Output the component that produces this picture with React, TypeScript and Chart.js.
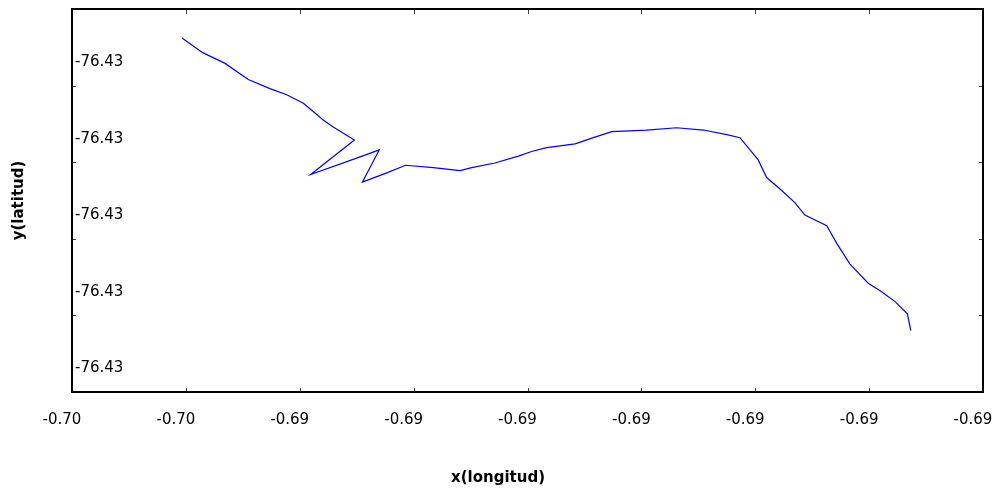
import React, { useEffect, useRef } from "react";
import { Chart, registerables } from "chart.js";

Chart.register(...registerables);

const longitudes: number[] = [
  -0.695117, -0.695026, -0.694928, -0.694826, -0.694731, -0.694657, -0.694584, -0.694497, -0.694453, -0.69436,
  -0.694552, -0.694335, -0.694251, -0.694325, -0.694218, -0.694135, -0.694014, -0.693896, -0.693845, -0.693743,
  -0.69364, -0.693582, -0.693516, -0.693391, -0.693311, -0.69323, -0.693077, -0.692945, -0.692828, -0.692725,
  -0.692667, -0.692587, -0.69255, -0.692491, -0.692425, -0.692382, -0.692286, -0.692242, -0.692184, -0.692104,
  -0.692045, -0.691986, -0.691932, -0.691917,
];

const latitudes: number[] = [
  -76.429788, -76.429807, -76.429821, -76.429842, -76.429854, -76.429862, -76.429873, -76.429895, -76.429904, -76.429921,
  -76.429966, -76.429943, -76.429934, -76.429976, -76.429964, -76.429954, -76.429957, -76.429961, -76.429957, -76.429951,
  -76.429942, -76.429936, -76.429931, -76.429926, -76.429918, -76.42991, -76.429908, -76.429905, -76.429908, -76.429914,
  -76.429918, -76.429947, -76.42997, -76.429985, -76.430003, -76.430019, -76.430033, -76.430056, -76.430083, -76.430108,
  -76.430119, -76.430132, -76.430148, -76.43017,
];

const xTicks: number[] = [-0.6956, -0.6951, -0.6946, -0.6941, -0.6936, -0.6931, -0.6926, -0.6921, -0.6916];
const yTicks: number[] = [-76.43025, -76.43015, -76.43005, -76.42995, -76.42985, -76.42975];

const xTitle = "x(longitud)";
const yTitle = "y(latitud)";

const FONT = "'DejaVu Sans', sans-serif";

const framePlugin = {
  id: "frame",
  afterDraw(chart: any) {
    const { ctx, chartArea } = chart;
    const { left, right, top, bottom } = chartArea;
    const xs = chart.scales.x;
    const ys = chart.scales.y;
    ctx.save();
    ctx.strokeStyle = "#444";
    ctx.lineWidth = 1;
    ctx.beginPath();
    xTicks.slice(1, -1).forEach((v) => {
      const px = Math.round(xs.getPixelForValue(v)) + 0.5;
      ctx.moveTo(px, bottom);
      ctx.lineTo(px, bottom - 4);
      ctx.moveTo(px, top);
      ctx.lineTo(px, top + 5);
    });
    yTicks.slice(1, -1).forEach((v) => {
      const py = Math.round(ys.getPixelForValue(v)) + 0.5;
      ctx.moveTo(left, py);
      ctx.lineTo(left + 4, py);
      ctx.moveTo(right, py);
      ctx.lineTo(right - 4, py);
    });
    ctx.stroke();
    ctx.strokeStyle = "#000";
    ctx.lineWidth = 2;
    ctx.strokeRect(left, top, right - left, bottom - top);
    // x axis title, centred on the whole canvas
    ctx.fillStyle = "#000";
    ctx.font = `bold 15px ${FONT}`;
    ctx.textAlign = "center";
    ctx.textBaseline = "middle";
    ctx.fillText(xTitle, chart.width / 2, 478);
    ctx.restore();
  },
};

export default function App() {
  const ref = useRef<HTMLCanvasElement | null>(null);

  useEffect(() => {
    document.body.style.margin = "0";
    const canvas = ref.current;
    if (!canvas) return;
    const points = longitudes.map((x, i) => ({ x, y: latitudes[i] }));
    const chart = new Chart(canvas, {
      type: "scatter",
      data: {
        datasets: [
          {
            data: points,
            showLine: true,
            borderColor: "#0000ff",
            borderWidth: 1.2,
            pointRadius: 0,
            tension: 0,
            fill: false,
          },
        ],
      },
      options: {
        animation: false,
        responsive: false,
        maintainAspectRatio: false,
        layout: { padding: { top: 9, right: 13, left: 0, bottom: 0 } },
        plugins: { legend: { display: false }, tooltip: { enabled: false } },
        scales: {
          x: {
            type: "linear",
            min: xTicks[0],
            max: xTicks[xTicks.length - 1],
            afterBuildTicks: (s: any) => {
              s.ticks = xTicks.map((v) => ({ value: v }));
            },
            afterFit: (s: any) => {
              s.height = 99;
              s.paddingLeft = 0;
              s.paddingRight = 0;
            },
            grid: { display: false, drawTicks: false },
            border: { display: false },
            ticks: {
              autoSkip: false,
              maxRotation: 0,
              minRotation: 0,
              padding: 19,
              labelOffset: -10,
              color: "#000",
              font: { family: FONT, size: 15 },
              callback: (v: any) => Number(v).toFixed(2),
            },
            title: { display: false, text: xTitle },
          },
          y: {
            type: "linear",
            min: yTicks[0],
            max: yTicks[yTicks.length - 1],
            afterBuildTicks: (s: any) => {
              s.ticks = yTicks.map((v) => ({ value: v }));
            },
            afterFit: (s: any) => {
              s.width = 72;
              s.paddingTop = 0;
              s.paddingBottom = 0;
            },
            grid: { display: false, drawTicks: false },
            border: { display: false },
            ticks: {
              mirror: true,
              padding: 3,
              labelOffset: -23.5,
              color: "#000",
              font: { family: FONT, size: 15 },
              callback: (v: any) => Number(v).toFixed(2),
            },
            title: {
              display: true,
              text: yTitle,
              color: "#000",
              font: { family: FONT, size: 15, weight: "bold" },
              padding: { top: 10, bottom: 0 },
            },
          },
        },
      },
      plugins: [framePlugin],
    });
    return () => chart.destroy();
  }, []);

  return (
    <div style={{ width: 996, height: 491 }}>
      <canvas ref={ref} width={996} height={491} />
    </div>
  );
}
